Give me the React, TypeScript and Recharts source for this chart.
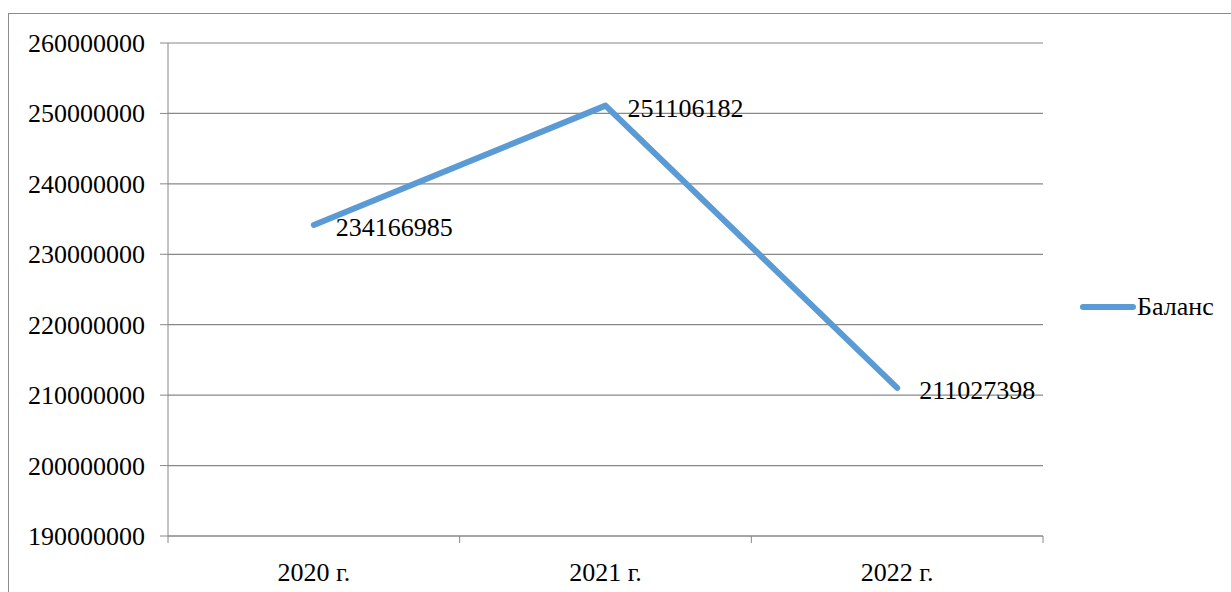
import {
  LineChart,
  Line,
  XAxis,
  YAxis,
  CartesianGrid,
  Legend,
  LabelList,
} from "recharts";

const categories = ["2020 г.", "2021 г.", "2022 г."];
const balance = [234166985, 251106182, 211027398];
const yTicks = [
  190000000, 200000000, 210000000, 220000000, 230000000, 240000000,
  250000000, 260000000,
];
const seriesName = "Баланс";

const LINE_COLOR = "#5B9BD5";
const GRID_COLOR = "#888888";
const FONT = "Liberation Serif, Tinos, Times New Roman, DejaVu Serif, serif";
const textStyle = { fontFamily: FONT, fontSize: 26, fill: "#000" };

// category i sits in the middle of slot [i, i+1]; slot edges carry the tick marks
const data = categories.map((c, i) => ({ pos: i + 0.5, name: c, value: balance[i] }));
const xTicks: number[] = [];
for (let i = 0; i <= categories.length; i++) {
  xTicks.push(i, i + 0.5);
}
xTicks.pop();

function XTick(props: any) {
  const { x, y, payload } = props;
  const v = payload.value as number;
  if (Number.isInteger(v)) {
    return <line x1={x} x2={x} y1={y} y2={y + 7} stroke={GRID_COLOR} strokeWidth={1} />;
  }
  return (
    <text x={x} y={y + 45} textAnchor="middle" style={textStyle}>
      {categories[Math.floor(v)]}
    </text>
  );
}

function YTick(props: any) {
  const { x, y, payload } = props;
  return (
    <text x={x} y={y} dy={9} textAnchor="end" style={textStyle}>
      {payload.value}
    </text>
  );
}

function ValueLabel(props: any) {
  const { x, y, value } = props;
  return (
    <text x={x + 22} y={y} dy={11} textAnchor="start" style={textStyle}>
      {value}
    </text>
  );
}

function LegendContent() {
  return (
    <div style={{ display: "flex", alignItems: "center", fontFamily: FONT, fontSize: 26 }}>
      <svg width={58} height={10}>
        <line x1={4} x2={54} y1={5} y2={5} stroke={LINE_COLOR} strokeWidth={6} strokeLinecap="round" />
      </svg>
      <span style={{ color: "#000" }}>{seriesName}</span>
    </div>
  );
}

export default function App() {
  return (
    <div style={{ position: "absolute", left: 0, top: 0, width: 1231, height: 592, background: "#fff", fontFamily: FONT }}>
      <div
        style={{
          position: "absolute",
          left: 8,
          top: 13,
          width: 1240,
          height: 600,
          border: "1.5px solid #8c8c8c",
          boxSizing: "border-box",
        }}
      />
      <div style={{ position: "absolute", left: 0, top: 0 }}>
        <LineChart
          width={1231}
          height={592}
          data={data}
          margin={{ top: 43, right: 188, bottom: 0, left: 0 }}
          style={{ fontFamily: FONT }}
        >
          <CartesianGrid vertical={false} stroke={GRID_COLOR} strokeWidth={1.2} />
          <XAxis
            dataKey="pos"
            type="number"
            domain={[0, categories.length]}
            ticks={xTicks}
            interval={0}
            tickSize={0}
            tickMargin={0}
            tick={<XTick />}
            tickLine={false}
            stroke={GRID_COLOR}
            height={56}
          />
          <YAxis
            domain={[190000000, 260000000]}
            ticks={yTicks}
            interval={0}
            width={168}
            tickSize={8}
            tickMargin={15}
            stroke={GRID_COLOR}
            tick={<YTick />}
          />
          <Legend
            layout="horizontal"
            verticalAlign="middle"
            align="center"
            content={<LegendContent />}
            wrapperStyle={{ position: "absolute", left: 1079, top: 292, width: 150 }}
          />
          <Line
            type="linear"
            dataKey="value"
            name={seriesName}
            stroke={LINE_COLOR}
            strokeWidth={6}
            strokeLinecap="round"
            strokeLinejoin="round"
            dot={false}
            activeDot={false}
            isAnimationActive={false}
          >
            <LabelList dataKey="value" content={<ValueLabel />} />
          </Line>
        </LineChart>
      </div>
    </div>
  );
}
